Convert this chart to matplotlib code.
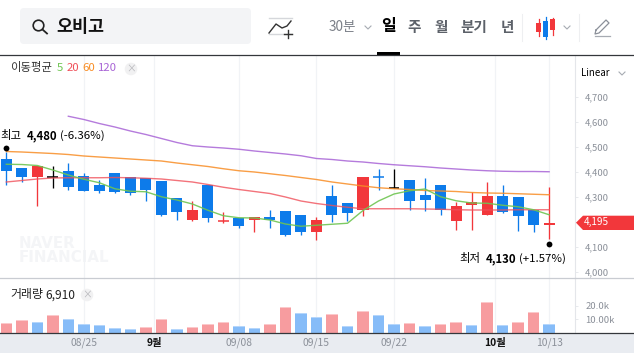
import matplotlib
matplotlib.use('Agg')
import numpy as np
import matplotlib.pyplot as plt
from matplotlib.patches import FancyBboxPatch, Polygon, Rectangle, Circle
from matplotlib.transforms import ScaledTranslation

plt.rcParams['font.family'] = ['Noto Sans CJK KR', 'DejaVu Sans']

# -----------------------
# Data
# -----------------------
opens = [4450, 4414, 4378, 4377, 4402, 4382, 4346, 4394, 4378, 4374, 4362, 4294,
         4206, 4346, 4200, 4214, 4206, 4218, 4242, 4226, 4158, 4302, 4274, 4246,
         4378, 4336, 4366, 4306, 4346, 4202, 4266, 4226, 4302, 4298, 4246, 4188]
closes = [4402, 4378, 4422, 4377, 4338, 4322, 4322, 4318, 4314, 4326, 4226, 4238,
          4246, 4214, 4203, 4182, 4218, 4206, 4146, 4158, 4206, 4226, 4234, 4378,
          4375, 4336, 4282, 4286, 4246, 4262, 4278, 4302, 4238, 4222, 4186, 4195]
highs = [4480, 4414, 4422, 4422, 4434, 4394, 4366, 4394, 4378, 4374, 4362, 4294,
         4282, 4346, 4238, 4214, 4218, 4246, 4242, 4226, 4218, 4346, 4274, 4378,
         4410, 4410, 4366, 4374, 4346, 4278, 4318, 4358, 4346, 4298, 4246, 4338]
lows = [4346, 4358, 4262, 4334, 4326, 4322, 4314, 4314, 4306, 4282, 4222, 4206,
        4202, 4198, 4194, 4174, 4158, 4174, 4142, 4146, 4126, 4198, 4202, 4222,
        4326, 4336, 4246, 4242, 4226, 4166, 4166, 4226, 4234, 4162, 4158, 4130]

ma5 = [4429, 4428, 4424, 4406, 4386, 4369, 4355, 4331, 4321, 4319, 4299, 4286,
       4270, 4245, 4223, 4215, 4214, 4206, 4190, 4181, 4185, 4189, 4193, 4244,
       4282, 4310, 4323, 4330, 4299, 4283, 4274, 4273, 4265, 4259, 4247, 4227]
ma20 = [4358, 4364, 4370, 4374, 4375, 4375, 4375, 4376, 4375, 4373, 4370, 4364,
        4358, 4348, 4337, 4328, 4320, 4312, 4298, 4282, 4272, 4264, 4257, 4251,
        4251, 4251, 4251, 4250, 4249, 4247, 4246, 4246, 4246, 4247, 4247, 4247]
ma60 = [4480, 4478, 4475, 4472, 4468, 4462, 4458, 4454, 4450, 4446, 4442, 4434,
        4427, 4420, 4411, 4403, 4398, 4391, 4384, 4376, 4368, 4358, 4350, 4342,
        4335, 4331, 4328, 4324, 4322, 4320, 4316, 4314, 4313, 4311, 4309, 4307]
# the 120 day average only starts at the fifth candle
ma120 = [4621, 4608, 4592, 4578, 4562, 4548, 4532, 4516, 4503, 4498, 4494, 4489,
         4482, 4476, 4470, 4463, 4452, 4448, 4442, 4438, 4432, 4427, 4423, 4419,
         4414, 4410, 4406, 4403, 4401, 4400, 4400, 4399]

volume = [7500, 9700, 8300, 13400, 10400, 6800, 6100, 3900, 3200, 4600, 10400, 3200,
          4600, 6800, 8300, 5300, 3900, 6800, 19200, 14800, 11900, 14100, 5300, 16300,
          13400, 6800, 7500, 5300, 6800, 8300, 6100, 22800, 6100, 8300, 15600, 6910]
vol_up = [1, 1, 0, 1, 0, 0, 0, 0, 0, 1, 1, 0, 1, 1, 1, 0, 0, 1,
          1, 0, 0, 1, 0, 1, 0, 0, 1, 0, 1, 1, 0, 1, 0, 1, 1, 0]

date_pos = [5, 9.55, 15, 20, 25, 31.5, 35]
date_labels = ['08/25', '9월', '09/08', '09/15', '09/22', '10월', '10/13']
price_ticks = [4000, 4100, 4200, 4300, 4400, 4500, 4600, 4700]
price_labels = ['4,000', '4,100', '', '4,300', '4,400', '4,500', '4,600', '4,700']
vol_ticks = [10000, 20000]
vol_labels = ['10.00k', '20.0k']

RED = '#f2373b'
BLUE = '#0d7bea'
W, H = 634, 353


def px_axes(x0, y0, x1, y1):
    return fig.add_axes([x0 / W, 1 - y1 / H, (x1 - x0) / W, (y1 - y0) / H])


fig = plt.figure(figsize=(6.34, 3.53), dpi=100)
idx = np.arange(len(opens))
xlim = (-0.406, 36.65)

# bottom strip
bg = fig.add_axes([0, 0, 1, 1], zorder=0)
bg.set_xlim(0, W)
bg.set_ylim(H, 0)
bg.axis('off')
bg.add_patch(Rectangle((0, 333), W, 20, color='#e9ecf1', lw=0))
# watermark
bg.text(19, 250.5, 'NAVER\nFINANCIAL', fontsize=10.8, fontweight='bold', family='DejaVu Sans',
        color='#f4f5f7', ha='left', va='center', linespacing=0.95)

# -----------------------
# Price panel
# -----------------------
ax = px_axes(0, 56, 574.7, 278)
ax.patch.set_alpha(0)
ax.set_zorder(2)
ax.set_xlim(*xlim)
ax.set_ylim(3974, 4862)
for s in ['top', 'left', 'bottom']:
    ax.spines[s].set_visible(False)
ax.spines['right'].set_color('#e4e6ea')
ax.spines['right'].set_linewidth(0.8)
ax.yaxis.tick_right()
ax.set_yticks(price_ticks)
ax.set_yticklabels(price_labels, fontsize=6.8, color='#8b9099')
ax.tick_params(axis='y', length=2.5, width=0.6, color='#e4e6ea', pad=5)
ax.set_xticks([])
for p in date_pos:
    ax.axvline(p, color='#f1f3f6', lw=0.9, zorder=1)

for i in idx:
    o, c, hi, lo = opens[i], closes[i], highs[i], lows[i]
    col = RED if c > o else (BLUE if c < o else 'black')
    ax.vlines(i, lo, hi, color=col, lw=0.95, zorder=3)
    if abs(c - o) < 5:
        ax.hlines((o + c) / 2, i - 0.35, i + 0.35, color=col, lw=1.1, zorder=3)
    else:
        ax.bar(i, abs(c - o), bottom=min(o, c), width=0.71, color=col, lw=0, zorder=3)

ax.plot(idx[4:], ma120, color='#a864d6', lw=1.0, alpha=0.85, zorder=4)
ax.plot(idx, ma60, color='#f88d25', lw=1.0, alpha=0.85, zorder=4)
ax.plot(idx, ma20, color='#f0505a', lw=1.0, alpha=0.8, zorder=4)
ax.plot(idx, ma5, color='#6fc552', lw=1.0, alpha=0.9, zorder=4)

# high / low markers sit a few pixels off the wick end
ax.plot([0], [highs[0]], 'o', ms=4.2, color='black', mew=0, zorder=5,
        transform=ax.transData + ScaledTranslation(0, 3.5 / 100, fig.dpi_scale_trans))
ax.plot([35], [lows[35]], 'o', ms=4.2, color='black', mew=0, zorder=5,
        transform=ax.transData + ScaledTranslation(0, -5 / 100, fig.dpi_scale_trans))

# -----------------------
# Volume panel
# -----------------------
vx = px_axes(0, 278, 574.7, 333)
vx.patch.set_alpha(0)
vx.set_zorder(2)
vx.set_xlim(*xlim)
vx.set_ylim(0, 40100)
for s in ['top', 'left', 'bottom']:
    vx.spines[s].set_visible(False)
vx.spines['right'].set_color('#e4e6ea')
vx.spines['right'].set_linewidth(0.8)
vx.yaxis.tick_right()
vx.set_yticks(vol_ticks)
vx.set_yticklabels(vol_labels, fontsize=6.8, color='#8b9099')
vx.tick_params(axis='y', length=2.5, width=0.6, color='#e4e6ea', pad=5)
vx.set_xticks(date_pos)
vx.set_xticklabels(date_labels, fontsize=7.4, color='#8b9099')
vx.tick_params(axis='x', length=0, pad=3.5)
for lab in vx.get_xticklabels():
    if '월' in lab.get_text():
        lab.set_color('#111111')
        lab.set_fontweight('bold')
for p in date_pos:
    vx.axvline(p, color='#f1f3f6', lw=0.9, zorder=1)
for i in idx:
    top_col = '#fbc9cb' if vol_up[i] else '#b5d6fb'
    body = '#f79c9f' if vol_up[i] else '#86bcf8'
    vx.bar(i, volume[i], width=0.74, color=top_col, lw=0, zorder=3)
    vx.bar(i, volume[i] - 730, width=0.74, color=body, lw=0, zorder=3)

# -----------------------
# Overlay: header, legends, rules, labels
# -----------------------
top = fig.add_axes([0, 0, 1, 1], zorder=5)
top.patch.set_alpha(0)
top.set_xlim(0, W)
top.set_ylim(H, 0)
top.axis('off')

top.plot([0, W], [55.2, 55.2], color='#34373b', lw=0.9)
top.plot([0, W], [278, 278], color='#c9ccd2', lw=0.9)
top.plot([0, W], [333.2, 333.2], color='#34373b', lw=0.9)

# search box
top.add_patch(FancyBboxPatch((24, 12), 223, 28, boxstyle='round,pad=4', fc='#f3f4f6', ec='none'))
top.add_patch(Circle((38.5, 25.5), 5.3, fc='none', ec='#222222', lw=1.2))
top.plot([42.5, 47], [29.5, 33.5], color='#222222', lw=1.3)
top.text(56.5, 27, '오비고', fontsize=12.5, fontweight='bold', color='#111111', va='center', ha='left')

# add-indicator icon
top.plot([269, 292], [18, 18], color='#d5d7db', lw=1)
top.plot([269, 292], [34, 34], color='#d5d7db', lw=1)
top.plot([269, 276, 282, 287, 291], [33, 24, 28, 26, 21], color='#333333', lw=1)
top.plot([284, 292], [34, 34], color='#333333', lw=1)
top.plot([288, 288], [30, 38], color='#333333', lw=1)

# period selector
top.text(342, 27.5, '30분', fontsize=9.8, color='#7b8088', ha='center', va='center')
top.plot([365, 368, 371], [26, 29, 26], color='#a7abb2', lw=0.8)
top.text(389, 26.5, '일', fontsize=11.5, fontweight='bold', color='black', ha='center', va='center')
top.text(414, 27, '주', fontsize=10.5, fontweight='bold', color='#5c6169', ha='center', va='center')
top.text(441, 27, '월', fontsize=10.5, fontweight='bold', color='#5c6169', ha='center', va='center')
top.text(474, 27, '분기', fontsize=10.5, fontweight='bold', color='#5c6169', ha='center', va='center')
top.text(507, 27, '년', fontsize=10.5, fontweight='bold', color='#5c6169', ha='center', va='center')
top.add_patch(Rectangle((377, 52), 23, 3, color='black', lw=0))
top.plot([521.5, 521.5], [14, 41], color='#eeeff1', lw=0.8)
top.plot([578.5, 578.5], [14, 41], color='#eeeff1', lw=0.8)

# candle type icon
for cx, y0, y1, b0, b1, col in [(538.5, 19, 36, 23, 32, RED), (545.5, 17, 39, 21, 37, BLUE),
                                (552.5, 18, 35, 19, 30, RED)]:
    top.plot([cx, cx], [y0, y1], color=col, lw=0.9)
    top.add_patch(Rectangle((cx - 2.5, b0), 5, b1 - b0, color=col, lw=0))
top.plot([564, 567, 570], [26, 29, 26], color='#a7abb2', lw=0.8)

# pencil icon
top.plot([596, 606, 609, 599, 595, 596], [30, 20, 23, 33, 34, 30], color='#8b9099', lw=0.9)
top.plot([595, 610], [35.5, 35.5], color='#a7abb2', lw=0.9)

# scale selector
top.text(581, 73, 'Linear', fontsize=7, color='black', ha='left', va='center')
top.plot([619, 622, 625], [72, 75, 72], color='#a7abb2', lw=0.8)

# moving average legend
top.text(10, 68, '이동평균', fontsize=8.2, color='#333333', ha='left', va='center')
top.text(57, 68, '5', fontsize=8.2, color='#6fc552', ha='left', va='center')
top.text(66.5, 68, '20', fontsize=8.2, color='#f0505a', ha='left', va='center')
top.text(82, 68, '60', fontsize=8.2, color='#f88d25', ha='left', va='center')
top.text(98, 68, '120', fontsize=8.2, color='#a864d6', ha='left', va='center')
top.add_patch(Circle((131, 69), 6.3, fc='#f1f1f2', ec='none'))
top.text(131, 68.7, '×', fontsize=7, color='#b8b8bc', ha='center', va='center')

# volume legend
top.text(10, 294.5, '거래량', fontsize=8.6, color='#222222', ha='left', va='center')
top.text(45, 295, '6,910', fontsize=8.6, color='#222222', ha='left', va='center')
top.add_patch(Circle((87, 295), 6.3, fc='#f1f1f2', ec='none'))
top.text(87, 294.7, '×', fontsize=7, color='#b8b8bc', ha='center', va='center')

# high / low captions
top.text(0, 135.5, '최고', fontsize=8.2, color='black', ha='left', va='center')
top.text(27, 135.5, '4,480', fontsize=8.2, fontweight='bold', color='black', ha='left', va='center')
top.text(60, 135.5, '(-6.36%)', fontsize=8.2, color='black', ha='left', va='center')
top.text(459, 258.5, '최저', fontsize=8.2, color='black', ha='left', va='center')
top.text(486, 258.5, '4,130', fontsize=8.2, fontweight='bold', color='black', ha='left', va='center')
top.text(519, 258.5, '(+1.57%)', fontsize=8.2, color='black', ha='left', va='center')

# current price tag
top.add_patch(Polygon([(576, 222.7), (583, 215.7), (634, 215.7), (634, 230), (583, 230)],
                      closed=True, color=RED, lw=0))
top.text(584, 222.3, '4,195', fontsize=7.2, color='white', ha='left', va='center')

fig.savefig('out.png', dpi=100)
